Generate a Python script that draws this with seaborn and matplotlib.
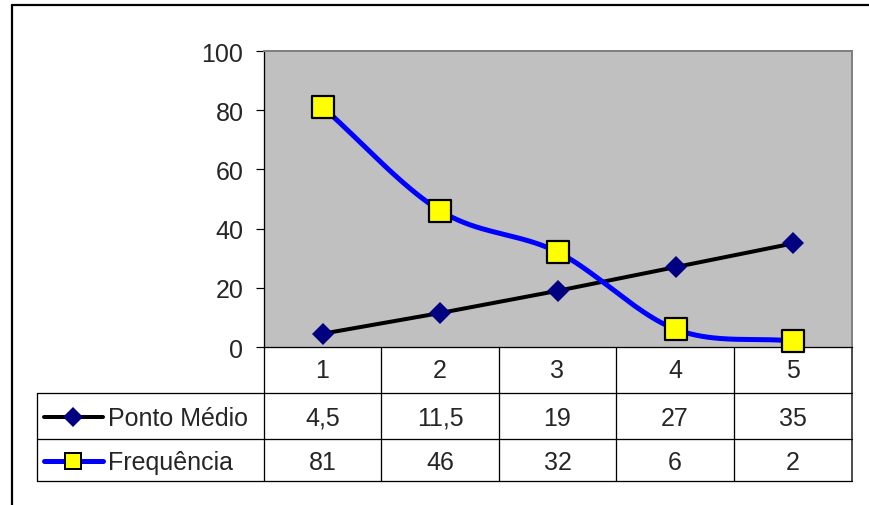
import numpy as np
import pandas as pd
import matplotlib
matplotlib.use("Agg")
import matplotlib.pyplot as plt
import seaborn as sns

# --- data -------------------------------------------------------------
classes = [1, 2, 3, 4, 5]
ponto_medio = [4.5, 11.5, 19, 27, 35]
frequencia = [81, 46, 32, 6, 2]
ponto_medio_labels = ["4,5", "11,5", "19", "27", "35"]
frequencia_labels = ["81", "46", "32", "6", "2"]
y_ticks = [0, 20, 40, 60, 80, 100]
series_names = ["Ponto Médio", "Frequência"]

# --- styling ----------------------------------------------------------
W, H = 870, 506
sns.set_theme(style="white")
plt.rcParams["font.family"] = ["Liberation Sans", "DejaVu Sans"]
FS = 18
PX = 72 / 100  # points per pixel at 100 dpi

NAVY = "#000080"
BLUE = "#0000FF"
YELLOW = "#FFFF00"
GRAY_BG = "#C0C0C0"

fig = plt.figure(figsize=(W / 100, H / 100), dpi=100)


def px_rect(x0, y0, x1, y1):
    return [x0 / W, 1 - y1 / H, (x1 - x0) / W, (y1 - y0) / H]


# overlay in pixel coordinates for the frame and the data table
over = fig.add_axes([0, 0, 1, 1], zorder=0)
over.set_xlim(0, W)
over.set_ylim(H, 0)
over.axis("off")

ax = fig.add_axes(px_rect(264, 52, 852, 348), zorder=1)
ax.set_facecolor(GRAY_BG)


def smooth_curve(xs, ys, n=40):
    """Catmull-Rom curve through the points (chart-style smoothed line)."""
    P = np.column_stack([xs, ys]).astype(float)
    ext = np.vstack([2 * P[0] - P[1], P, 2 * P[-1] - P[-2]])
    t = np.linspace(0, 1, n, endpoint=False)[:, None]
    segs = []
    for i in range(1, len(ext) - 2):
        p0, p1, p2, p3 = ext[i - 1], ext[i], ext[i + 1], ext[i + 2]
        segs.append(0.5 * (2 * p1 + (-p0 + p2) * t
                           + (2 * p0 - 5 * p1 + 4 * p2 - p3) * t ** 2
                           + (-p0 + 3 * p1 - 3 * p2 + p3) * t ** 3))
    segs.append(P[-1:])
    return np.vstack(segs)


df = pd.DataFrame({"classe": classes, "ponto_medio": ponto_medio,
                   "frequencia": frequencia})

# Ponto Médio: straight black line with navy diamonds
sns.lineplot(data=df, x="classe", y="ponto_medio", ax=ax, color="black",
             lw=4 * PX, marker="D", markersize=11.5, markerfacecolor=NAVY,
             markeredgecolor=NAVY, markeredgewidth=0, zorder=3, clip_on=False)

# Frequência: smoothed blue line with yellow squares
curve = smooth_curve(df["classe"], df["frequencia"])
sns.lineplot(x=curve[:, 0], y=curve[:, 1], sort=False, estimator=None,
             ax=ax, color=BLUE, lw=5 * PX, zorder=4)
sns.scatterplot(data=df, x="classe", y="frequencia", ax=ax, marker="s",
                s=(22 * PX) ** 2, color=YELLOW, edgecolor="black",
                linewidth=2.2 * PX, zorder=5, clip_on=False)

ax.set_xlim(0.5, 5.5)
ax.set_ylim(0, 100)
ax.set_xticks([])
ax.set_yticks(y_ticks)
ax.set_yticklabels([str(v) for v in y_ticks], fontsize=FS)
ax.set_xlabel("")
ax.set_ylabel("")
ax.tick_params(axis="y", direction="out", length=8 * PX, width=1.2 * PX,
               color="black", pad=9, left=True)
for side in ("left", "bottom"):
    ax.spines[side].set_color("black")
    ax.spines[side].set_linewidth(1.3 * PX)
for side in ("top", "right"):
    ax.spines[side].set_color("#808080")
    ax.spines[side].set_linewidth(2 * PX)

# --- outer frame ------------------------------------------------------
over.plot([12, 12], [6, H], color="black", lw=2.2 * PX)
over.plot([12, W], [6, 6], color="black", lw=2.2 * PX)

# --- data table -------------------------------------------------------
col_edges = [264, 381, 499, 616, 734, 852]
col_centers = [(a + b) / 2 for a, b in zip(col_edges[:-1], col_edges[1:])]
row_lines = [394, 440, 482]
tab_left = 37
lw_tab = 1.3 * PX

for x in col_edges[:-1]:
    over.plot([x, x], [348, 482], color="black", lw=lw_tab)
over.plot([852, 852], [348, 482], color="#505050", lw=2 * PX)
for y in row_lines:
    over.plot([tab_left, 852], [y, y], color="black", lw=lw_tab)
over.plot([tab_left, tab_left], [394, 482], color="black", lw=lw_tab)

for xc, c in zip(col_centers, classes):
    over.text(xc, 371, str(c), ha="center", va="center", fontsize=FS)
for xc, lab in zip(col_centers, ponto_medio_labels):
    over.text(xc, 419, lab, ha="center", va="center", fontsize=FS)
for xc, lab in zip(col_centers, frequencia_labels):
    over.text(xc, 463, lab, ha="center", va="center", fontsize=FS)

# legend keys
over.plot([44, 103], [418, 418], color="black", lw=4 * PX)
over.plot([73], [418], marker="D", markersize=10, color=NAVY,
          markeredgewidth=0)
over.plot([44, 103], [462, 462], color=BLUE, lw=5 * PX,
          solid_capstyle="round")
over.plot([73], [462], marker="s", markersize=11, markerfacecolor=YELLOW,
          markeredgecolor="black", markeredgewidth=2 * PX)
over.text(108, 419, series_names[0], ha="left", va="center", fontsize=FS)
over.text(108, 463, series_names[1], ha="left", va="center", fontsize=FS)

fig.savefig("out.png", dpi=100)
